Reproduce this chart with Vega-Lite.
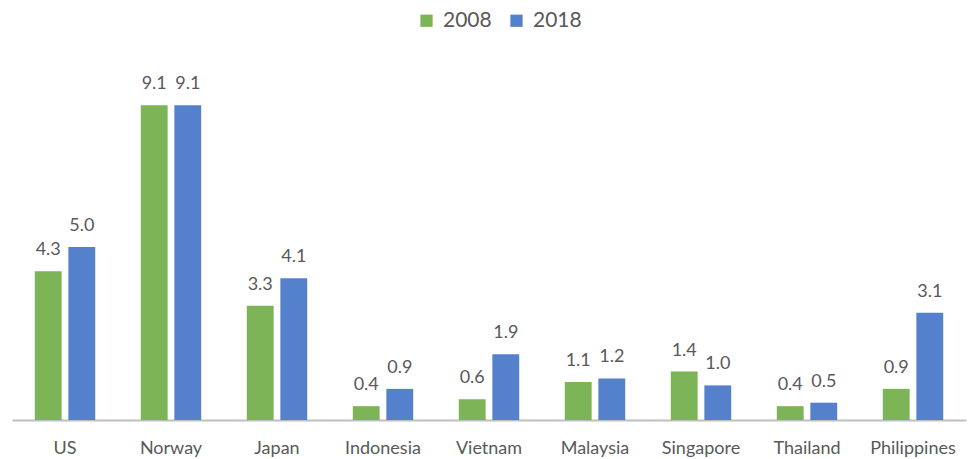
{
  "$schema": "https://vega.github.io/schema/vega-lite/v6.json",
  "autosize": "none",
  "width": 954,
  "height": 346,
  "padding": {"left": 12, "top": 74, "right": 2, "bottom": 39},
  "background": "white",
  "config": {
    "view": {"stroke": null},
    "font": "Lato",
    "text": {"font": "Lato"}
  },
  "data": {
    "values": [
      {"country": "US", "year": "2008", "value": 4.3},
      {"country": "US", "year": "2018", "value": 5.0},
      {"country": "Norway", "year": "2008", "value": 9.1},
      {"country": "Norway", "year": "2018", "value": 9.1},
      {"country": "Japan", "year": "2008", "value": 3.3},
      {"country": "Japan", "year": "2018", "value": 4.1},
      {"country": "Indonesia", "year": "2008", "value": 0.4},
      {"country": "Indonesia", "year": "2018", "value": 0.9},
      {"country": "Vietnam", "year": "2008", "value": 0.6},
      {"country": "Vietnam", "year": "2018", "value": 1.9},
      {"country": "Malaysia", "year": "2008", "value": 1.1},
      {"country": "Malaysia", "year": "2018", "value": 1.2},
      {"country": "Singapore", "year": "2008", "value": 1.4},
      {"country": "Singapore", "year": "2018", "value": 1.0},
      {"country": "Thailand", "year": "2008", "value": 0.4},
      {"country": "Thailand", "year": "2018", "value": 0.5},
      {"country": "Philippines", "year": "2008", "value": 0.9},
      {"country": "Philippines", "year": "2018", "value": 3.1}
    ]
  },
  "encoding": {
    "x": {
      "field": "country", "type": "nominal", "sort": null,
      "scale": {"paddingInner": 0.43, "paddingOuter": 0.215},
      "axis": {
        "title": null, "labelAngle": 0, "ticks": false,
        "domainColor": "#bfbfbf", "domainWidth": 2,
        "labelFontSize": 18, "labelColor": "#595959", "labelPadding": 19,
        "labelFont": "Lato"
      }
    },
    "xOffset": {"field": "year", "type": "nominal", "scale": {"paddingInner": 0.2}},
    "y": {
      "field": "value", "type": "quantitative",
      "scale": {"domain": [0, 10]},
      "axis": null
    }
  },
  "layer": [
    {
      "mark": {"type": "bar"},
      "encoding": {
        "color": {
          "field": "year", "type": "nominal",
          "scale": {"domain": ["2008", "2018"], "range": ["#7db457", "#5580cc"]},
          "legend": {
            "title": null, "orient": "none", "direction": "horizontal",
            "legendX": 404, "legendY": -64,
            "symbolType": "square", "symbolSize": 150, "symbolStrokeWidth": 0,
            "labelFontSize": 21, "labelColor": "#595959", "labelFont": "Lato",
            "columnPadding": 14, "labelOffset": 6
          }
        }
      }
    },
    {
      "mark": {"type": "text", "baseline": "bottom", "dy": -12, "fontSize": 18, "color": "#595959", "font": "Lato"},
      "encoding": {
        "text": {"field": "value", "type": "quantitative", "format": ".1f"}
      }
    }
  ]
}
